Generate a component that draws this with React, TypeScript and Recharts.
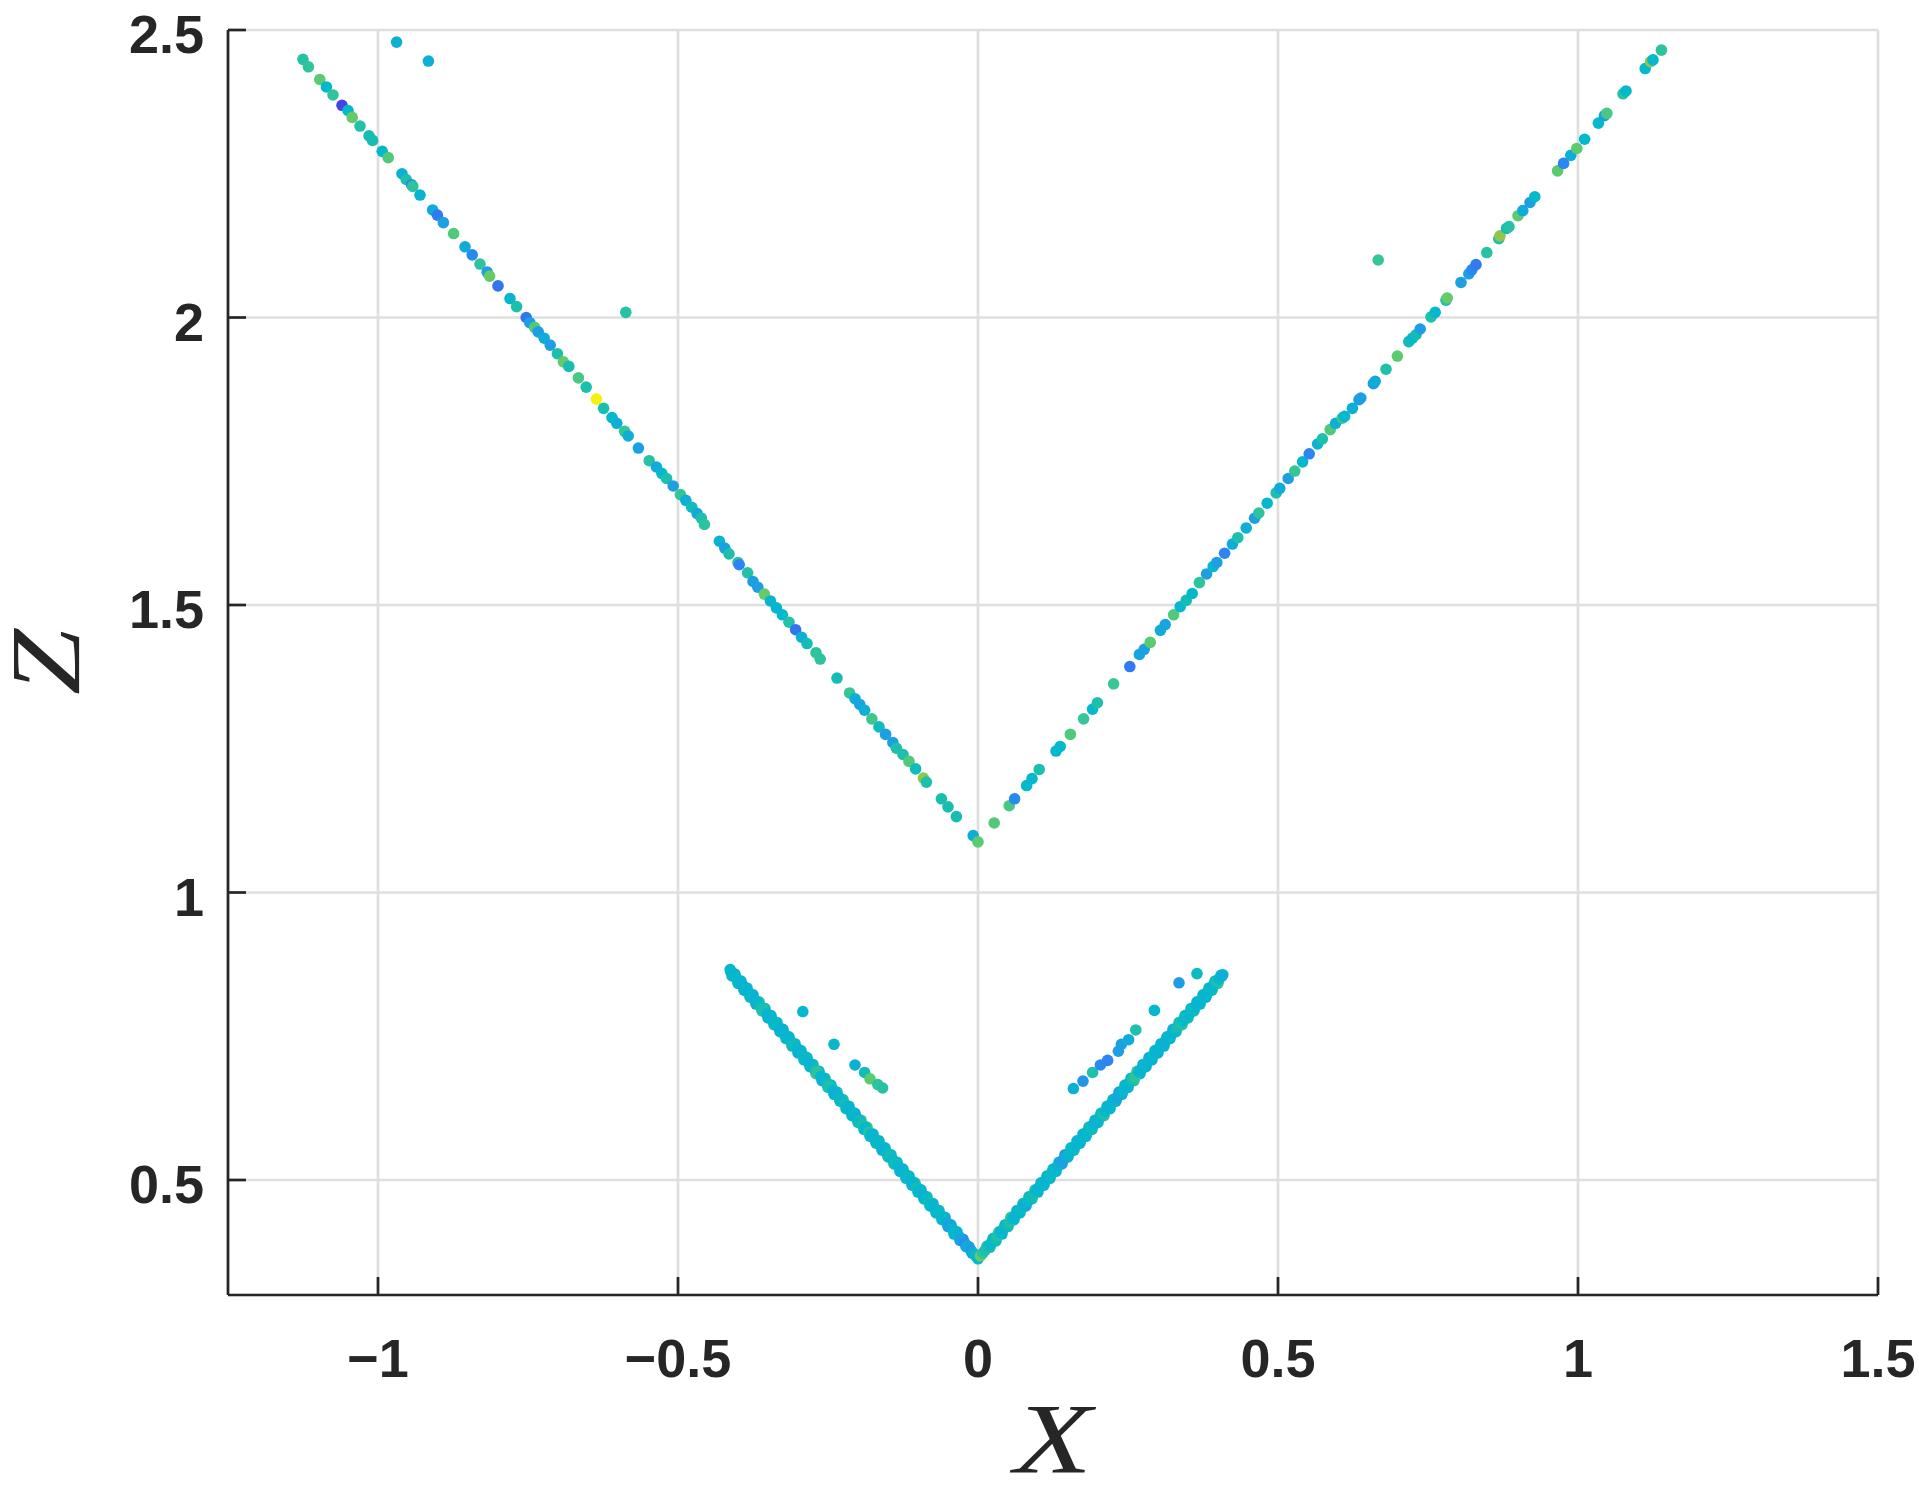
import { ScatterChart, Scatter, XAxis, YAxis, CartesianGrid, Label } from 'recharts'

type Pt = [number, number, number] // x, z, colour value (0..1)

const xTicks = [-1, -0.5, 0, 0.5, 1, 1.5]
const zTicks = [0.5, 1, 1.5, 2, 2.5]

// upper branch, left arm
const upperLeft: Pt[] = [
  [-1.125, 2.449, 0.58], [-1.116, 2.436, 0.61], [-1.097, 2.414, 0.7], [-1.086, 2.401, 0.45],
  [-1.075, 2.387, 0.61], [-1.06, 2.369, 0.05], [-1.05, 2.36, 0.45], [-1.043, 2.348, 0.72],
  [-1.03, 2.333, 0.57], [-1.015, 2.316, 0.53], [-1.009, 2.308, 0.53], [-0.993, 2.289, 0.45],
  [-0.983, 2.278, 0.68], [-0.96, 2.25, 0.4], [-0.953, 2.24, 0.55], [-0.944, 2.231, 0.18],
  [-0.942, 2.228, 0.6], [-0.93, 2.213, 0.42], [-0.909, 2.187, 0.38], [-0.901, 2.178, 0.16],
  [-0.891, 2.165, 0.3], [-0.874, 2.146, 0.68], [-0.855, 2.123, 0.38], [-0.843, 2.109, 0.2],
  [-0.83, 2.093, 0.6], [-0.818, 2.079, 0.3], [-0.814, 2.072, 0.72], [-0.8, 2.055, 0.15],
  [-0.78, 2.033, 0.44], [-0.769, 2.019, 0.55], [-0.753, 2.0, 0.15], [-0.747, 1.991, 0.28],
  [-0.739, 1.983, 0.68], [-0.733, 1.975, 0.3], [-0.723, 1.964, 0.38], [-0.713, 1.952, 0.3],
  [-0.701, 1.937, 0.55], [-0.691, 1.923, 0.72], [-0.682, 1.915, 0.53], [-0.666, 1.895, 0.66],
  [-0.653, 1.879, 0.55], [-0.636, 1.858, 1.0], [-0.624, 1.842, 0.54], [-0.61, 1.826, 0.45],
  [-0.602, 1.816, 0.4], [-0.589, 1.802, 0.62], [-0.583, 1.794, 0.4], [-0.566, 1.773, 0.32],
  [-0.548, 1.751, 0.58], [-0.536, 1.74, 0.38], [-0.527, 1.729, 0.45], [-0.519, 1.72, 0.55],
  [-0.508, 1.707, 0.3], [-0.496, 1.692, 0.62], [-0.487, 1.682, 0.4], [-0.477, 1.67, 0.5],
  [-0.468, 1.659, 0.35], [-0.461, 1.651, 0.55], [-0.456, 1.64, 0.6], [-0.431, 1.611, 0.42],
  [-0.422, 1.599, 0.32], [-0.415, 1.589, 0.55], [-0.4, 1.574, 0.6], [-0.398, 1.57, 0.18],
  [-0.384, 1.556, 0.57], [-0.375, 1.541, 0.3], [-0.367, 1.531, 0.3], [-0.356, 1.519, 0.72],
  [-0.346, 1.507, 0.43], [-0.336, 1.495, 0.43], [-0.326, 1.483, 0.45], [-0.315, 1.47, 0.57],
  [-0.304, 1.457, 0.15], [-0.294, 1.444, 0.4], [-0.285, 1.433, 0.52], [-0.27, 1.417, 0.6],
  [-0.263, 1.406, 0.6], [-0.235, 1.373, 0.52], [-0.214, 1.347, 0.62], [-0.205, 1.337, 0.4],
  [-0.197, 1.327, 0.33], [-0.189, 1.317, 0.4], [-0.177, 1.302, 0.64], [-0.165, 1.288, 0.5],
  [-0.154, 1.275, 0.3], [-0.142, 1.261, 0.3], [-0.136, 1.251, 0.55], [-0.125, 1.24, 0.55],
  [-0.115, 1.228, 0.68], [-0.104, 1.215, 0.5], [-0.091, 1.199, 0.8], [-0.086, 1.192, 0.55],
  [-0.061, 1.163, 0.54], [-0.05, 1.149, 0.54], [-0.036, 1.132, 0.53], [-0.008, 1.099, 0.38],
  [0.0, 1.088, 0.7],
]

// upper branch, right arm
const upperRight: Pt[] = [
  [0.027, 1.121, 0.68], [0.052, 1.151, 0.66], [0.061, 1.163, 0.2], [0.081, 1.186, 0.45],
  [0.09, 1.198, 0.45], [0.102, 1.214, 0.55], [0.13, 1.246, 0.45], [0.137, 1.254, 0.45],
  [0.154, 1.275, 0.68], [0.176, 1.302, 0.62], [0.191, 1.319, 0.45], [0.199, 1.33, 0.55],
  [0.226, 1.363, 0.63], [0.253, 1.393, 0.16], [0.269, 1.414, 0.33], [0.277, 1.423, 0.32],
  [0.287, 1.435, 0.7], [0.304, 1.456, 0.38], [0.312, 1.466, 0.33], [0.326, 1.483, 0.68],
  [0.337, 1.497, 0.45], [0.347, 1.508, 0.52], [0.357, 1.52, 0.45], [0.369, 1.539, 0.6],
  [0.381, 1.554, 0.3], [0.392, 1.567, 0.45], [0.398, 1.574, 0.3], [0.411, 1.59, 0.18],
  [0.424, 1.606, 0.38], [0.433, 1.617, 0.55], [0.447, 1.634, 0.4], [0.461, 1.651, 0.3],
  [0.468, 1.66, 0.6], [0.482, 1.677, 0.45], [0.497, 1.695, 0.55], [0.503, 1.703, 0.38],
  [0.517, 1.72, 0.3], [0.528, 1.733, 0.62], [0.541, 1.749, 0.45], [0.552, 1.763, 0.18],
  [0.566, 1.78, 0.42], [0.574, 1.789, 0.55], [0.587, 1.805, 0.68], [0.596, 1.816, 0.4],
  [0.607, 1.825, 0.62], [0.611, 1.828, 0.45], [0.624, 1.842, 0.4], [0.635, 1.857, 0.3],
  [0.638, 1.86, 0.3], [0.659, 1.885, 0.3], [0.662, 1.889, 0.38], [0.68, 1.91, 0.56],
  [0.699, 1.933, 0.7], [0.718, 1.958, 0.5], [0.724, 1.964, 0.45], [0.73, 1.97, 0.52],
  [0.737, 1.98, 0.28], [0.755, 2.001, 0.56], [0.762, 2.009, 0.45], [0.78, 2.03, 0.54],
  [0.782, 2.034, 0.72], [0.805, 2.061, 0.3], [0.818, 2.076, 0.3], [0.823, 2.083, 0.2],
  [0.83, 2.092, 0.16], [0.848, 2.113, 0.58], [0.868, 2.137, 0.55], [0.87, 2.142, 0.8],
  [0.881, 2.155, 0.52], [0.885, 2.158, 0.58], [0.9, 2.177, 0.7], [0.908, 2.186, 0.38],
  [0.92, 2.2, 0.3], [0.928, 2.21, 0.45], [0.966, 2.255, 0.7], [0.976, 2.268, 0.18],
  [0.988, 2.282, 0.4], [0.998, 2.294, 0.7], [1.011, 2.31, 0.45], [1.034, 2.338, 0.45],
  [1.044, 2.351, 0.3], [1.048, 2.355, 0.66], [1.075, 2.389, 0.58], [1.08, 2.394, 0.45],
  [1.112, 2.433, 0.45], [1.121, 2.445, 0.8], [1.125, 2.448, 0.45], [1.139, 2.465, 0.6],
]

const upperStray: Pt[] = [
  [-0.969, 2.479, 0.4], [-0.916, 2.446, 0.4], [-0.587, 2.009, 0.58], [0.667, 2.1, 0.62],
]

// lower branch, left arm: outer edge of the thick band
const lowerLeftEdge: Pt[] = [
  [-0.413, 0.866, 0.45], [-0.41, 0.855, 0.47], [-0.405, 0.858, 0.4], [-0.4, 0.842, 0.45],
  [-0.395, 0.846, 0.42], [-0.39, 0.83, 0.38], [-0.385, 0.834, 0.45], [-0.38, 0.818, 0.48],
  [-0.375, 0.822, 0.3], [-0.37, 0.806, 0.36], [-0.365, 0.81, 0.55], [-0.36, 0.794, 0.58],
  [-0.355, 0.798, 0.45], [-0.35, 0.782, 0.4], [-0.345, 0.786, 0.45], [-0.34, 0.77, 0.5],
  [-0.335, 0.774, 0.42], [-0.33, 0.758, 0.45], [-0.325, 0.762, 0.38], [-0.32, 0.746, 0.47],
  [-0.315, 0.749, 0.45], [-0.31, 0.733, 0.52], [-0.305, 0.737, 0.45], [-0.3, 0.721, 0.4],
  [-0.295, 0.725, 0.45], [-0.29, 0.709, 0.48], [-0.285, 0.713, 0.42], [-0.28, 0.697, 0.45],
  [-0.275, 0.701, 0.5], [-0.27, 0.685, 0.64], [-0.265, 0.689, 0.45], [-0.26, 0.673, 0.4],
  [-0.255, 0.677, 0.52], [-0.25, 0.661, 0.56], [-0.245, 0.665, 0.45], [-0.24, 0.649, 0.42],
  [-0.235, 0.653, 0.5], [-0.23, 0.637, 0.45], [-0.225, 0.64, 0.55], [-0.22, 0.624, 0.48],
  [-0.215, 0.628, 0.42], [-0.21, 0.612, 0.45], [-0.205, 0.616, 0.38], [-0.2, 0.6, 0.52],
  [-0.195, 0.604, 0.57], [-0.19, 0.588, 0.45], [-0.185, 0.592, 0.62], [-0.18, 0.576, 0.45],
  [-0.175, 0.58, 0.42], [-0.17, 0.564, 0.5], [-0.165, 0.568, 0.45], [-0.16, 0.552, 0.4],
  [-0.155, 0.556, 0.45], [-0.15, 0.54, 0.55], [-0.145, 0.544, 0.47], [-0.14, 0.528, 0.52],
  [-0.135, 0.531, 0.45], [-0.13, 0.515, 0.4], [-0.125, 0.519, 0.45], [-0.12, 0.503, 0.5],
  [-0.115, 0.507, 0.45], [-0.11, 0.491, 0.42], [-0.105, 0.495, 0.55], [-0.1, 0.479, 0.45],
  [-0.095, 0.483, 0.38], [-0.09, 0.467, 0.45], [-0.085, 0.471, 0.53], [-0.08, 0.455, 0.45],
  [-0.075, 0.459, 0.4], [-0.07, 0.443, 0.45], [-0.065, 0.447, 0.5], [-0.06, 0.431, 0.45],
  [-0.055, 0.435, 0.38], [-0.05, 0.419, 0.3], [-0.045, 0.422, 0.42], [-0.04, 0.406, 0.45],
  [-0.035, 0.41, 0.4], [-0.03, 0.395, 0.3], [-0.025, 0.397, 0.2], [-0.02, 0.384, 0.38],
  [-0.015, 0.384, 0.25], [-0.01, 0.373, 0.4],
]

// lower branch, left arm: centre of the band
const lowerLeft: Pt[] = [
  [-0.412, 0.862, 0.45], [-0.408, 0.857, 0.42], [-0.402, 0.85, 0.47], [-0.398, 0.845, 0.45],
  [-0.392, 0.838, 0.4], [-0.388, 0.833, 0.45], [-0.382, 0.826, 0.42], [-0.378, 0.821, 0.45],
  [-0.372, 0.813, 0.38], [-0.368, 0.809, 0.45], [-0.362, 0.801, 0.5], [-0.358, 0.797, 0.55],
  [-0.352, 0.789, 0.45], [-0.348, 0.784, 0.42], [-0.342, 0.777, 0.45], [-0.338, 0.772, 0.47],
  [-0.332, 0.765, 0.45], [-0.328, 0.76, 0.4], [-0.322, 0.753, 0.45], [-0.318, 0.748, 0.42],
  [-0.312, 0.741, 0.45], [-0.308, 0.736, 0.5], [-0.302, 0.729, 0.45], [-0.298, 0.724, 0.42],
  [-0.292, 0.717, 0.45], [-0.288, 0.712, 0.47], [-0.282, 0.704, 0.45], [-0.278, 0.7, 0.42],
  [-0.272, 0.692, 0.52], [-0.268, 0.688, 0.6], [-0.262, 0.68, 0.45], [-0.258, 0.675, 0.42],
  [-0.252, 0.668, 0.5], [-0.248, 0.663, 0.55], [-0.242, 0.656, 0.45], [-0.238, 0.651, 0.4],
  [-0.232, 0.644, 0.45], [-0.228, 0.639, 0.47], [-0.222, 0.632, 0.52], [-0.218, 0.627, 0.45],
  [-0.212, 0.62, 0.42], [-0.208, 0.615, 0.45], [-0.202, 0.608, 0.4], [-0.198, 0.603, 0.5],
  [-0.192, 0.595, 0.55], [-0.188, 0.591, 0.45], [-0.182, 0.583, 0.58], [-0.178, 0.579, 0.45],
  [-0.172, 0.571, 0.42], [-0.168, 0.566, 0.47], [-0.162, 0.559, 0.45], [-0.158, 0.554, 0.4],
  [-0.152, 0.547, 0.45], [-0.148, 0.542, 0.52], [-0.142, 0.535, 0.45], [-0.138, 0.53, 0.5],
  [-0.132, 0.523, 0.45], [-0.128, 0.518, 0.42], [-0.122, 0.511, 0.45], [-0.118, 0.506, 0.47],
  [-0.112, 0.499, 0.45], [-0.108, 0.494, 0.42], [-0.102, 0.487, 0.52], [-0.098, 0.482, 0.45],
  [-0.092, 0.474, 0.4], [-0.088, 0.47, 0.45], [-0.082, 0.462, 0.5], [-0.078, 0.457, 0.45],
  [-0.072, 0.45, 0.42], [-0.068, 0.445, 0.45], [-0.062, 0.438, 0.47], [-0.058, 0.433, 0.45],
  [-0.052, 0.426, 0.38], [-0.048, 0.421, 0.32], [-0.042, 0.414, 0.42], [-0.038, 0.409, 0.45],
  [-0.032, 0.402, 0.4], [-0.028, 0.397, 0.32], [-0.022, 0.39, 0.22], [-0.018, 0.385, 0.38],
  [-0.012, 0.378, 0.28], [-0.008, 0.373, 0.4], [-0.004, 0.368, 0.45], [0.0, 0.363, 0.45],
]

// lower branch, right arm: outer edge of the band
const lowerRightEdge: Pt[] = [
  [0.015, 0.385, 0.58], [0.02, 0.383, 0.55], [0.025, 0.398, 0.45], [0.03, 0.394, 0.5],
  [0.035, 0.41, 0.58], [0.04, 0.406, 0.45], [0.045, 0.422, 0.42], [0.05, 0.419, 0.55],
  [0.055, 0.435, 0.6], [0.06, 0.431, 0.45], [0.065, 0.447, 0.4], [0.07, 0.443, 0.45],
  [0.075, 0.459, 0.5], [0.08, 0.455, 0.3], [0.085, 0.471, 0.45], [0.09, 0.467, 0.55],
  [0.095, 0.483, 0.58], [0.1, 0.479, 0.45], [0.105, 0.495, 0.42], [0.11, 0.491, 0.45],
  [0.115, 0.507, 0.4], [0.12, 0.503, 0.45], [0.125, 0.519, 0.5], [0.13, 0.515, 0.45],
  [0.135, 0.531, 0.42], [0.14, 0.528, 0.3], [0.145, 0.544, 0.22], [0.15, 0.54, 0.4],
  [0.155, 0.556, 0.45], [0.16, 0.552, 0.48], [0.165, 0.568, 0.45], [0.17, 0.564, 0.42],
  [0.175, 0.58, 0.45], [0.18, 0.576, 0.4], [0.185, 0.592, 0.45], [0.19, 0.588, 0.52],
  [0.195, 0.604, 0.45], [0.2, 0.6, 0.42], [0.205, 0.616, 0.45], [0.21, 0.612, 0.58],
  [0.215, 0.628, 0.45], [0.22, 0.624, 0.4], [0.225, 0.64, 0.45], [0.23, 0.637, 0.38],
  [0.235, 0.653, 0.32], [0.24, 0.649, 0.4], [0.245, 0.665, 0.45], [0.25, 0.661, 0.42],
  [0.255, 0.677, 0.45], [0.26, 0.673, 0.6], [0.265, 0.689, 0.64], [0.27, 0.685, 0.45],
  [0.275, 0.701, 0.4], [0.28, 0.697, 0.45], [0.285, 0.713, 0.42], [0.29, 0.709, 0.38],
  [0.295, 0.725, 0.45], [0.3, 0.721, 0.4], [0.305, 0.737, 0.45], [0.31, 0.733, 0.42],
  [0.315, 0.749, 0.38], [0.32, 0.746, 0.45], [0.325, 0.762, 0.4], [0.33, 0.758, 0.45],
  [0.335, 0.774, 0.55], [0.34, 0.77, 0.6], [0.345, 0.786, 0.45], [0.35, 0.782, 0.5],
  [0.355, 0.798, 0.45], [0.36, 0.794, 0.52], [0.365, 0.81, 0.45], [0.37, 0.806, 0.42],
  [0.375, 0.822, 0.45], [0.38, 0.818, 0.4], [0.385, 0.834, 0.45], [0.39, 0.83, 0.48],
  [0.395, 0.846, 0.45], [0.4, 0.842, 0.62], [0.405, 0.856, 0.45],
]

// lower branch, right arm: centre of the band
const lowerRight: Pt[] = [
  [0.004, 0.368, 0.72], [0.008, 0.373, 0.6], [0.012, 0.378, 0.55], [0.018, 0.385, 0.5],
  [0.022, 0.39, 0.45], [0.028, 0.397, 0.52], [0.032, 0.402, 0.55], [0.038, 0.409, 0.45],
  [0.042, 0.414, 0.42], [0.048, 0.421, 0.5], [0.052, 0.426, 0.55], [0.058, 0.433, 0.45],
  [0.062, 0.438, 0.42], [0.068, 0.445, 0.45], [0.072, 0.45, 0.47], [0.078, 0.457, 0.38],
  [0.082, 0.462, 0.45], [0.088, 0.47, 0.5], [0.092, 0.474, 0.52], [0.098, 0.482, 0.45],
  [0.102, 0.487, 0.42], [0.108, 0.494, 0.45], [0.112, 0.499, 0.42], [0.118, 0.506, 0.45],
  [0.122, 0.511, 0.47], [0.128, 0.518, 0.45], [0.132, 0.523, 0.42], [0.138, 0.53, 0.35],
  [0.142, 0.535, 0.3], [0.148, 0.542, 0.4], [0.152, 0.547, 0.45], [0.158, 0.554, 0.47],
  [0.162, 0.559, 0.45], [0.168, 0.566, 0.42], [0.172, 0.571, 0.45], [0.178, 0.579, 0.42],
  [0.182, 0.583, 0.45], [0.188, 0.591, 0.5], [0.192, 0.595, 0.45], [0.198, 0.603, 0.42],
  [0.202, 0.608, 0.45], [0.208, 0.615, 0.55], [0.212, 0.62, 0.45], [0.218, 0.627, 0.42],
  [0.222, 0.632, 0.45], [0.228, 0.639, 0.4], [0.232, 0.644, 0.35], [0.238, 0.651, 0.4],
  [0.242, 0.656, 0.45], [0.248, 0.663, 0.42], [0.252, 0.668, 0.45], [0.258, 0.675, 0.55],
  [0.262, 0.68, 0.6], [0.268, 0.688, 0.45], [0.272, 0.692, 0.42], [0.278, 0.7, 0.45],
  [0.282, 0.704, 0.42], [0.288, 0.712, 0.4], [0.292, 0.717, 0.45], [0.298, 0.724, 0.42],
  [0.302, 0.729, 0.45], [0.308, 0.736, 0.42], [0.312, 0.741, 0.4], [0.318, 0.748, 0.45],
  [0.322, 0.753, 0.42], [0.328, 0.76, 0.45], [0.332, 0.765, 0.52], [0.338, 0.772, 0.55],
  [0.342, 0.777, 0.45], [0.348, 0.784, 0.48], [0.352, 0.789, 0.45], [0.358, 0.797, 0.5],
  [0.362, 0.801, 0.45], [0.368, 0.809, 0.42], [0.372, 0.813, 0.45], [0.378, 0.821, 0.42],
  [0.382, 0.826, 0.45], [0.388, 0.833, 0.47], [0.392, 0.838, 0.45], [0.398, 0.845, 0.55],
  [0.402, 0.85, 0.45], [0.406, 0.854, 0.42], [0.408, 0.857, 0.4],
]

const lowerStray: Pt[] = [
  [-0.292, 0.793, 0.45], [-0.24, 0.736, 0.45], [-0.205, 0.7, 0.4], [-0.189, 0.687, 0.5],
  [-0.18, 0.676, 0.7], [-0.167, 0.666, 0.6], [-0.159, 0.66, 0.58],
  [0.159, 0.659, 0.4], [0.175, 0.672, 0.25], [0.191, 0.687, 0.55], [0.204, 0.7, 0.2],
  [0.216, 0.708, 0.18], [0.234, 0.724, 0.3], [0.239, 0.736, 0.32], [0.251, 0.744, 0.38],
  [0.263, 0.761, 0.55], [0.294, 0.795, 0.45], [0.335, 0.843, 0.28], [0.365, 0.859, 0.48],
]

// parula-like colour map
const cmap: [number, [number, number, number]][] = [
  [0.05, [68, 68, 230]],
  [0.18, [45, 132, 242]],
  [0.3, [29, 159, 226]],
  [0.38, [16, 172, 217]],
  [0.45, [5, 184, 204]],
  [0.53, [23, 189, 178]],
  [0.61, [48, 196, 156]],
  [0.7, [91, 203, 112]],
  [0.8, [144, 199, 74]],
  [1.0, [245, 241, 15]],
]

function colorOf(c: number) {
  if (c <= cmap[0][0]) return `rgb(${cmap[0][1].join(',')})`
  for (let i = 1; i < cmap.length; i++) {
    const [c1, a] = cmap[i - 1]
    const [c2, b] = cmap[i]
    if (c <= c2) {
      const t = (c - c1) / (c2 - c1)
      const rgb = a.map((v, k) => Math.round(v + (b[k] - v) * t))
      return `rgb(${rgb.join(',')})`
    }
  }
  return `rgb(${cmap[cmap.length - 1][1].join(',')})`
}

const points = [
  ...lowerLeftEdge,
  ...lowerRightEdge,
  ...lowerLeft,
  ...lowerRight,
  ...lowerStray,
  ...upperLeft,
  ...upperRight,
  ...upperStray,
].map(([x, z, c]) => ({ x, z, c }))

const INK = '#262626'
const TICK_FONT = "'Liberation Sans', Arial, Helvetica, sans-serif"
const LABEL_FONT = "'Liberation Serif', 'Times New Roman', serif"

const fmt = (v: number) => (v < 0 ? '\u2212' + String(-v) : String(v))

const XTick = (props: any) => {
  const { x, y, payload } = props
  return (
    <g>
      <line x1={x} y1={y} x2={x} y2={y - 18} stroke={INK} strokeWidth={2.7} />
      <text x={x} y={y + 82} textAnchor="middle" fontFamily={TICK_FONT} fontWeight="bold" fontSize={54} fill={INK}>
        {fmt(payload.value)}
      </text>
    </g>
  )
}

const YTick = (props: any) => {
  const { x, y, payload } = props
  return (
    <g>
      <line x1={x} y1={y} x2={x + 18} y2={y} stroke={INK} strokeWidth={2.7} />
      <text x={x - 24} y={y + 23} textAnchor="end" fontFamily={TICK_FONT} fontWeight="bold" fontSize={54} fill={INK}>
        {fmt(payload.value)}
      </text>
    </g>
  )
}

const Dot = (props: any) => {
  const { cx, cy, payload } = props
  return <circle cx={cx} cy={cy} r={5.8} fill={colorOf(payload.c)} />
}

export default function App() {
  return (
    <div style={{ position: 'absolute', left: 0, top: 0 }}>
      <ScatterChart width={1919} height={1488} margin={{ top: 30, right: 41, bottom: 0, left: 0 }}>
        <CartesianGrid stroke="#dfdfdf" strokeWidth={2.7} fill="none" />
        <XAxis
          type="number"
          dataKey="x"
          domain={[-1.25, 1.5]}
          ticks={xTicks}
          interval={0}
          allowDataOverflow
          height={193}
          tickSize={0}
          tickMargin={0}
          tickLine={false}
          tick={XTick}
          axisLine={{ stroke: INK, strokeWidth: 2.7 }}
        >
          <Label
            content={() => (
              <text
                x={1053}
                y={1472}
                textAnchor="middle"
                textLength={78}
                lengthAdjust="spacingAndGlyphs"
                fontFamily={LABEL_FONT}
                fontStyle="italic"
                fontSize={100}
                fill={INK}
              >
                X
              </text>
            )}
          />
        </XAxis>
        <YAxis
          type="number"
          dataKey="z"
          domain={[0.3, 2.5]}
          ticks={zTicks}
          interval={0}
          allowDataOverflow
          width={228}
          tickSize={0}
          tickMargin={0}
          tickLine={false}
          tick={YTick}
          axisLine={{ stroke: INK, strokeWidth: 2.7 }}
        >
          <Label
            content={() => (
              <text
                x={79}
                y={662}
                transform="rotate(-90, 79, 662)"
                textAnchor="middle"
                textLength={66}
                lengthAdjust="spacingAndGlyphs"
                fontFamily={LABEL_FONT}
                fontStyle="italic"
                fontSize={100}
                fill={INK}
              >
                Z
              </text>
            )}
          />
        </YAxis>
        <Scatter data={points} dataKey="z" shape={Dot} isAnimationActive={false} />
      </ScatterChart>
    </div>
  )
}
